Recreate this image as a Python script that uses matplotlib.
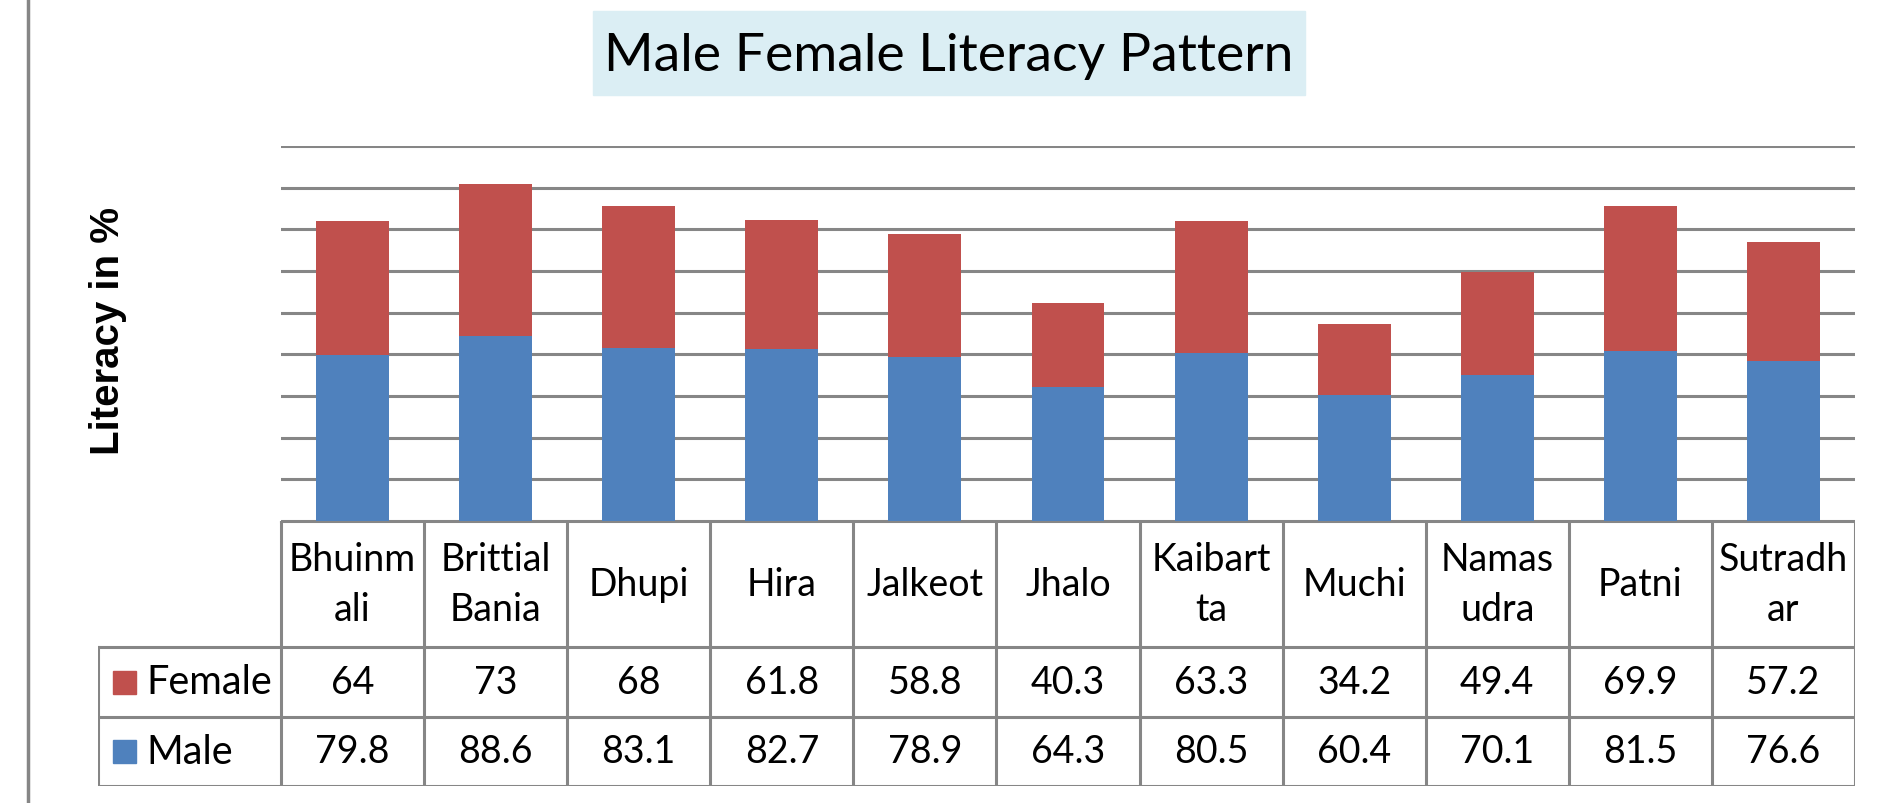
import matplotlib.pyplot as plt
from matplotlib.lines import Line2D
from matplotlib.patches import Rectangle
import numpy as np

# Data
castes = ['Bhuinm\nali', 'Brittial\nBania', 'Dhupi', 'Hira', 'Jalkeot', 'Jhalo',
          'Kaibart\nta', 'Muchi', 'Namas\nudra', 'Patni', 'Sutradh\nar']
female = [64, 73, 68, 61.8, 58.8, 40.3, 63.3, 34.2, 49.4, 69.9, 57.2]
male = [79.8, 88.6, 83.1, 82.7, 78.9, 64.3, 80.5, 60.4, 70.1, 81.5, 76.6]
yticks = [0, 20, 40, 60, 80, 100, 120, 140, 160, 180]

blue = '#4F81BD'
red = '#C0504D'
grey = '#868686'
font = 'Lato'

W, H = 1878, 804
fig = plt.figure(figsize=(W / 100, H / 100), dpi=100)


def box(x0, y0, x1, y1):
    # pixel box -> figure rect
    return [x0 / W, 1 - y1 / H, (x1 - x0) / W, (y1 - y0) / H]


# bar area
ax = fig.add_axes(box(281, 147, 1855, 522))
x = np.arange(len(castes))
ax.bar(x, male, width=0.51, color=blue, zorder=3)
ax.bar(x, female, width=0.51, bottom=male, color=red, zorder=3)
ax.set_xlim(-0.5, len(castes) - 0.5)
ax.set_ylim(yticks[0], yticks[-1])
ax.set_yticks(yticks)
ax.yaxis.grid(True, color=grey, linewidth=2.2)
ax.set_axisbelow(True)
ax.tick_params(left=False, bottom=False, labelleft=False, labelbottom=False)
for s in ax.spines.values():
    s.set_visible(False)

# data table below
lab_w = (281 - 98) / ((1855 - 281) / len(castes))
rows = [0, 126, 196, 265]
tab = fig.add_axes(box(98, 522, 1855, 787))
tab.set_xlim(-0.5 - lab_w, len(castes) - 0.5)
tab.set_ylim(rows[-1], rows[0])
tab.axis('off')
lk = dict(color=grey, linewidth=2.2, solid_capstyle='projecting')
for k in range(len(castes) + 1):
    tab.plot([k - 0.5, k - 0.5], [rows[0], rows[-1]], **lk)
tab.plot([-0.5 - lab_w] * 2, [rows[1], rows[-1]], **lk)
tab.plot([-0.5, len(castes) - 0.5], [rows[0], rows[0]], **lk)
for r in rows[1:]:
    tab.plot([-0.5 - lab_w, len(castes) - 0.5], [r, r], **lk)

for i, name in enumerate(castes):
    tab.text(i, (rows[0] + rows[1]) / 2, name, ha='center', va='center',
             fontsize=27, family=font, linespacing=1.5)
    tab.text(i, (rows[1] + rows[2]) / 2, f'{female[i]:g}', ha='center', va='center',
             fontsize=27, family=font)
    tab.text(i, (rows[2] + rows[3]) / 2, f'{male[i]:g}', ha='center', va='center',
             fontsize=27, family=font)

for (r0, r1), lbl, col in [((rows[1], rows[2]), 'Female', red),
                            ((rows[2], rows[3]), 'Male', blue)]:
    ypx = 522 + (r0 + r1) / 2
    sq = 23
    fig.add_artist(Rectangle((113 / W, 1 - (ypx + sq / 2) / H), sq / W, sq / H,
                             color=col, transform=fig.transFigure))
    fig.text(146 / W, 1 - ypx / H, lbl, ha='left', va='center', fontsize=28.5, family=font)

# title
fig.add_artist(Rectangle((593 / W, 1 - 96 / H), (1305 - 593) / W, (96 - 12) / H,
                         color='#DBEEF4', transform=fig.transFigure))
fig.text(949 / W, 1 - 56 / H, 'Male Female Literacy Pattern', ha='center', va='center',
         fontsize=38.5, family=font)

# y label
fig.text(108 / W, 1 - 331 / H, 'Literacy in %', rotation=90, ha='center', va='center',
         fontsize=29, fontweight='bold', family='Liberation Sans')

# left border
fig.add_artist(Line2D([28 / W, 28 / W], [0, 1], color=grey, linewidth=2.5,
                      transform=fig.transFigure))

fig.savefig('out.png', dpi=100)
